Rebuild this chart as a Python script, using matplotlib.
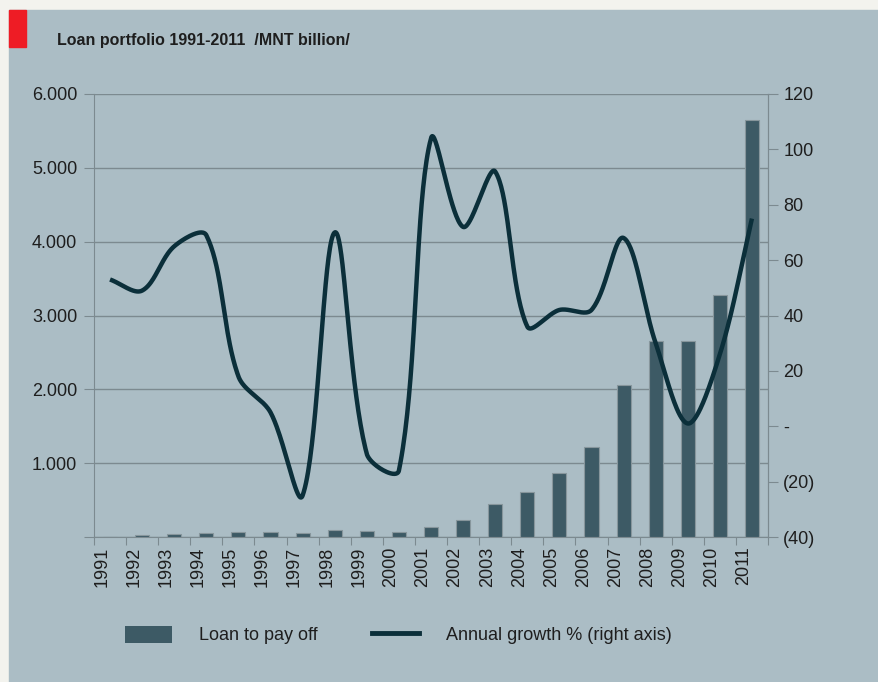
import numpy as np
import matplotlib.pyplot as plt
import matplotlib.transforms as mtransforms
from matplotlib.patches import Rectangle, Patch
from matplotlib.lines import Line2D

years = [str(y) for y in range(1991, 2012)]
loan = [0, 25, 35, 60, 70, 70, 55, 90, 80, 70, 140, 230, 443, 605, 863,
        1223, 2060, 2658, 2658, 3280, 5648]
growth = [53, 49, 65, 69, 18, 5, -25, 70, -10, -16, 104, 72, 92, 36, 42,
          42, 68, 30, 1, 26, 75]

left_ticks = [0, 1000, 2000, 3000, 4000, 5000, 6000]
left_labels = ["", "1.000", "2.000", "3.000", "4.000", "5.000", "6.000"]
right_ticks = [-40, -20, 0, 20, 40, 60, 80, 100, 120]
right_labels = ["(40)", "(20)", "-", "20", "40", "60", "80", "100", "120"]

panel = "#abbdc5"
bar_col = "#3d5a65"
line_col = "#0b2f3a"
grid_col = "#7c8a90"
txt = "#1e1e1e"

plt.rcParams['font.family'] = ['Liberation Sans', 'DejaVu Sans']
plt.rcParams['font.size'] = 13


def smooth(x, y, yscale, n=40):
    # Bezier through every point, control arms weighted by chord length
    # (chords measured with y scaled to the same units as x)
    x = np.asarray(x, float)
    y = np.asarray(y, float)
    P = np.column_stack([x, y * yscale])
    m = len(P)
    d = np.linalg.norm(np.diff(P, axis=0), axis=1)
    out_c, in_c = [], []
    for i in range(m):
        a = P[max(i - 1, 0)]
        b = P[min(i + 1, m - 1)]
        T = b - a
        din = d[i - 1] if i > 0 else 0.0
        dout = d[i] if i < m - 1 else 0.0
        tot = din + dout
        out_c.append(P[i] + T * (dout / tot) / 3)
        in_c.append(P[i] - T * (din / tot) / 3)
    t = np.linspace(0, 1, n, endpoint=False)[:, None]
    pts = []
    for i in range(m - 1):
        p0, c1, c2, p1 = P[i], out_c[i], in_c[i + 1], P[i + 1]
        pts.append((1 - t) ** 3 * p0 + 3 * (1 - t) ** 2 * t * c1
                   + 3 * (1 - t) * t ** 2 * c2 + t ** 3 * p1)
    pts.append(P[-1:])
    pts = np.vstack(pts)
    return pts[:, 0], pts[:, 1] / yscale


fig = plt.figure(figsize=(8.79, 6.82), dpi=100, facecolor="#f3f3ee")
fig.patches.append(Rectangle((9 / 879, 0), 1, 1 - 10 / 682,
                             transform=fig.transFigure, color=panel, zorder=-3))
fig.patches.append(Rectangle((9 / 879, 1 - 47 / 682), 17 / 879, 37 / 682,
                             transform=fig.transFigure, color="#ee1c25", zorder=-2))
fig.text(57 / 879, 1 - 40 / 682, "Loan portfolio 1991-2011  /MNT billion/",
         fontsize=11.5, fontweight="bold", color=txt, va="center",
         family=['Liberation Sans Narrow', 'Liberation Sans'])

ax = fig.add_axes([94 / 879, 1 - 537 / 682, 674 / 879, 443 / 682])
ax.set_facecolor("none")
x = np.arange(len(years))
ax.bar(x, loan, width=0.44, color=bar_col, edgecolor="#87969c",
       linewidth=0.8, zorder=3)
ax.set_xlim(-0.5, len(years) - 0.5)
ax.set_ylim(0, 6000)
ax.set_yticks(left_ticks)
ax.set_yticklabels(left_labels)
ax.yaxis.grid(True, color=grid_col, linewidth=1, zorder=0)
ax.set_axisbelow(True)

ax.set_xticks(np.arange(-0.5, len(years)), minor=False)
ax.set_xticklabels([])
ax.set_xticks(x, minor=True)
ax.set_xticklabels(years, minor=True, rotation=90, va="top", ha="center")
ax.tick_params(axis="x", which="minor", length=0, pad=7, labelsize=13,
               labelcolor=txt)
ax.tick_params(axis="x", which="major", length=6, color=grid_col)
ax.tick_params(axis="y", length=7, color=grid_col, labelsize=13,
               labelcolor=txt, pad=5)
shift = mtransforms.ScaledTranslation(-8 / 100, 0, fig.dpi_scale_trans)
for lab in ax.xaxis.get_minorticklabels():
    lab.set_transform(lab.get_transform() + shift)

for s in ("left", "bottom", "right"):
    ax.spines[s].set_color(grid_col)
ax.spines["top"].set_visible(False)

ax2 = ax.twinx()
# pixels per growth unit relative to pixels per category
yscale = (443 / 160) / (674 / len(years))
sx, sy = smooth(x, growth, yscale)
ax2.plot(sx, sy, color=line_col, linewidth=3.2, solid_capstyle="butt", zorder=4)
ax2.set_ylim(-40, 120)
ax2.set_yticks(right_ticks)
ax2.set_yticklabels(right_labels)
ax2.tick_params(axis="y", length=7, color=grid_col, labelsize=13,
                labelcolor=txt, pad=4)
for s in ("left", "bottom", "top"):
    ax2.spines[s].set_visible(False)
ax2.spines["right"].set_color(grid_col)

handles = [Patch(facecolor=bar_col, edgecolor="none", label="Loan to pay off"),
           Line2D([], [], color=line_col, linewidth=3.5,
                  label="Annual growth % (right axis)")]
fig.legend(handles=handles, loc="center left", ncol=2, frameon=False,
           bbox_to_anchor=(125 / 879, 1 - 635 / 682), borderpad=0,
           borderaxespad=0, handlelength=2.6, handleheight=1.1,
           handletextpad=1.5, columnspacing=3.0, fontsize=13,
           labelcolor=txt)

fig.savefig("out.png", dpi=100, facecolor=fig.get_facecolor())
